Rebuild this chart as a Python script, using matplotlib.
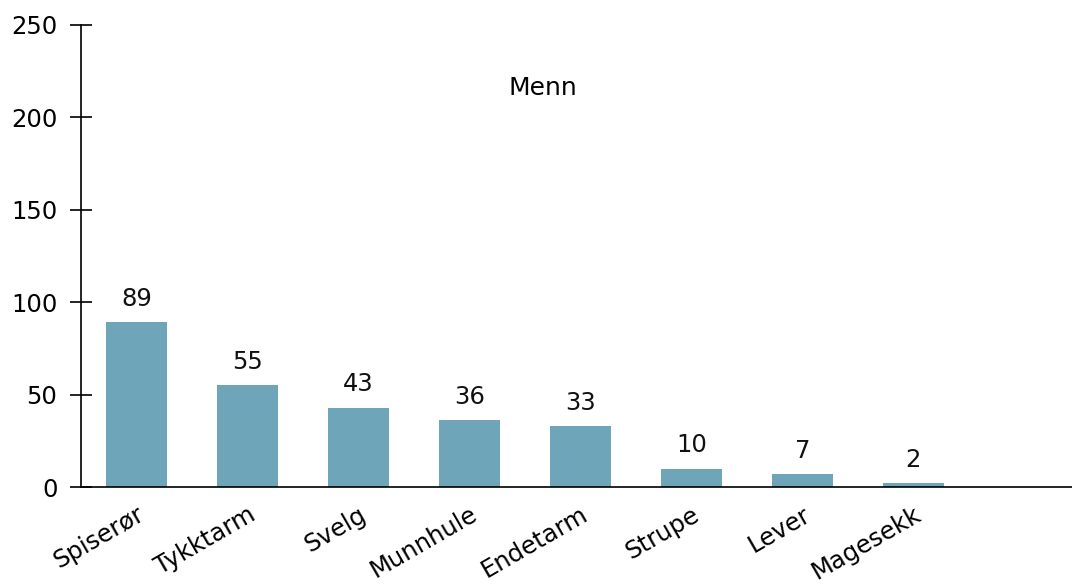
import matplotlib
matplotlib.use('Agg')
import matplotlib.pyplot as plt
import numpy as np

### data
kategorier = ['Spiserør', 'Tykktarm', 'Svelg', 'Munnhule', 'Endetarm', 'Strupe', 'Lever', 'Magesekk']
antall = [89, 55, 43, 36, 33, 10, 7, 2]
tittel = 'Menn'

plt.rcParams['font.family'] = ['DejaVu Sans']
farge = '#6fa5b8'

fig = plt.figure(figsize=(10.72, 5.85), dpi=100)
ax = fig.add_axes([0.0756, 0.1675, 0.9244, 0.79])

x = np.arange(len(kategorier))
bars = ax.bar(x, antall, width=0.55, color=farge)

'value labels'
for xi, v in zip(x, antall):
    ax.annotate(str(v), (xi, v), xytext=(0, 8), textcoords='offset points',
                ha='center', va='bottom', fontsize=17.5, color='#111111')

ax.text(0.466, 0.864, tittel, transform=ax.transAxes,
        ha='center', va='center', fontsize=18)

ax.set_xlim(-0.5, 8.43)
ax.set_ylim(0, 250)
ax.set_yticks([0, 50, 100, 150, 200, 250])
ax.set_xticks(x)
ax.set_xticklabels(kategorier, rotation=30, ha='right', rotation_mode='anchor', fontsize=17.5)

ax.tick_params(axis='y', direction='inout', length=16, width=1.2, labelsize=17.5, pad=9)
ax.tick_params(axis='x', length=0, pad=11)

ax.spines['top'].set_visible(False)
ax.spines['right'].set_visible(False)
ax.spines['left'].set_linewidth(1.2)
ax.spines['bottom'].set_linewidth(1.2)
ax.spines['bottom'].set_zorder(3)

plt.savefig('out.png', dpi=100)
